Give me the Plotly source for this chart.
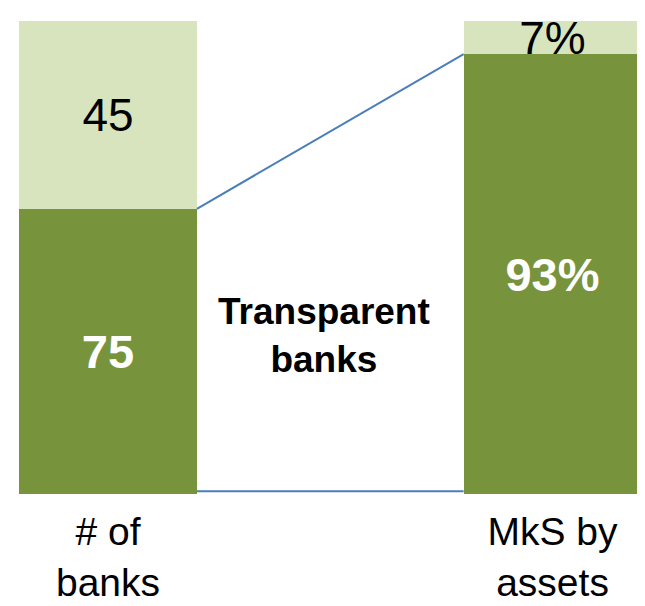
"""Transparent banks: share of bank count vs market share by assets."""

import plotly.graph_objects as go

categories = ["# of<br>banks", "MkS by<br>assets"]
transparent_share = [60.3, 93]     # bar heights (%)
other_share = [39.7, 7]
transparent_labels = ["75", "93%"]
other_labels = ["45", "7%"]

DARK = "#77933C"
LIGHT = "#D7E4BD"
LINE = "#4A7EBB"
FONT = "Liberation Sans, Arial, sans-serif"
BAR_WIDTH = 0.4

x_pos = list(range(len(categories)))

fig = go.Figure()
fig.add_trace(
    go.Bar(
        x=x_pos,
        y=transparent_share,
        width=BAR_WIDTH,
        marker=dict(color=DARK, line=dict(width=0)),
        text=transparent_labels,
        textposition="inside",
        insidetextanchor="middle",
        textangle=0,
        constraintext="none",
        textfont=dict(family=FONT, size=47, color="white", weight="bold"),
        hoverinfo="skip",
        showlegend=False,
    )
)
fig.add_trace(
    go.Bar(
        x=x_pos,
        y=other_share,
        width=BAR_WIDTH,
        marker=dict(color=LIGHT, line=dict(width=0)),
        text=other_labels,
        textposition="inside",
        insidetextanchor="middle",
        textangle=0,
        constraintext="none",
        textfont=dict(family=FONT, size=46, color="black"),
        hoverinfo="skip",
        showlegend=False,
    )
)

# connector lines between the two bars
edges = [x_pos[0] + BAR_WIDTH / 2, x_pos[1] - BAR_WIDTH / 2]
fig.add_trace(
    go.Scatter(
        x=edges,
        y=transparent_share,
        mode="lines",
        line=dict(color=LINE, width=2),
        hoverinfo="skip",
        showlegend=False,
    )
)
fig.add_trace(
    go.Scatter(
        x=edges,
        y=[0.6, 0.6],
        mode="lines",
        line=dict(color=LINE, width=2),
        hoverinfo="skip",
        showlegend=False,
    )
)

fig.add_annotation(
    x=0.486,
    y=33.5,
    text="<b>Transparent<br>banks</b>",
    showarrow=False,
    font=dict(family=FONT, size=37, color="black"),
)

# page has an 8px body margin, so the figure is a bit smaller than the window
fig.update_layout(
    barmode="stack",
    bargap=0,
    width=637,
    height=598,
    margin=dict(l=0, r=0, t=13, b=112),
    paper_bgcolor="white",
    plot_bgcolor="white",
    font=dict(family=FONT),
)
fig.update_xaxes(
    range=[-0.225, 1.208],
    tickvals=x_pos,
    ticktext=categories,
    tickfont=dict(family=FONT, size=39, color="black"),
    ticklabelstandoff=11,
    automargin=False,
    showgrid=False,
    zeroline=False,
    showline=False,
    ticks="",
)
fig.update_yaxes(
    range=[0, 100],
    visible=False,
    showgrid=False,
    zeroline=False,
)

fig.write_html("out.html")
